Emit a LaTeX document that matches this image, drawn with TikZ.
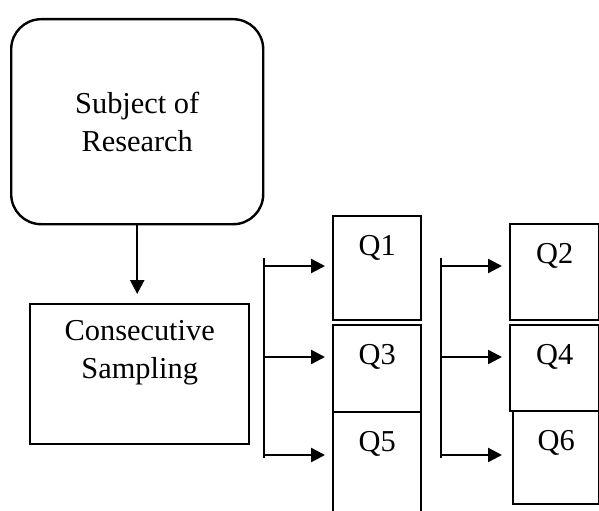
\documentclass[tikz,border=0pt]{standalone}
\usepackage{fontspec}
\setmainfont{Liberation Serif}
\usetikzlibrary{arrows.meta,positioning}

\begin{document}
\begin{tikzpicture}[x=1bp,y=-1bp,
	box/.style={draw,line width=2.4bp,inner sep=0pt,anchor=north west},
	lbl/.style={font=\fontsize{30.5}{38}\selectfont,align=center,inner sep=0pt},
	arr/.style={line width=2.4bp,-{Triangle[length=14bp,width=14bp]}}]
	\clip (0,0) rectangle (599,511);
	% main boxes
	\node[box,lbl,anchor=north west,rounded corners=30bp,minimum width=252bp,minimum height=205bp] (subj) at (10,18) {Subject of\\Research};
	\node[box,minimum width=219bp,minimum height=140bp] (samp) at (29,303) {};
	\node[lbl,anchor=north] (samptxt) at ([yshift=-17bp]samp.north) {Consecutive\\Sampling};
	\draw[arr,shorten >=9bp] (subj.south) -- (subj.south |- samp.north);
	% question boxes
	\node[box,minimum width=88bp,minimum height=104bp] (q1) at (332,215) {};
	\node[box,minimum width=88bp,minimum height=87bp] (q3) at (332,324) {};
	\node[box,minimum width=88bp,minimum height=110bp] (q5) at (332,411) {};
	\node[box,minimum width=89bp,minimum height=96bp] (q2) at (509,223) {};
	\node[box,minimum width=89bp,minimum height=86bp] (q4) at (509,324) {};
	\node[box,minimum width=86bp,minimum height=93bp] (q6) at (512,410) {};
	\foreach \q in {1,...,6}
		\node[lbl,anchor=north] (q\q txt) at ([yshift=-20bp]q\q.north) {Q\q};
	% brackets
	\coordinate (b1t) at (264,258);
	\coordinate (b1b) at (264,458);
	\coordinate (b2t) at (441,258);
	\coordinate (b2b) at (441,458);
	\draw[line width=2.4bp] (b1t) -- (b1b);
	\draw[line width=2.4bp] (b2t) -- (b2b);
	\foreach \y [count=\i] in {266,357,455} {
		\coordinate (l\i) at (264,\y);
		\coordinate (r\i) at (441,\y);
		\draw[arr,shorten >=7bp] (l\i) -- (l\i -| q1.west);
		\draw[arr,shorten >=7bp] (r\i) -- (r\i -| q2.west);
	}
\end{tikzpicture}
\end{document}
